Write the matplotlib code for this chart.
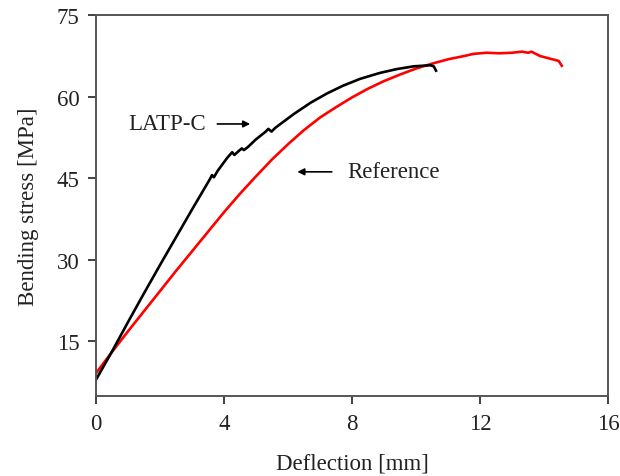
import numpy as np
import matplotlib
matplotlib.use('Agg')
import matplotlib.pyplot as plt

plt.rcParams.update({
    'font.family': 'serif',
    'font.serif': ['Liberation Serif', 'DejaVu Serif'],
    'font.size': 16.5,
})

# LATP-C (black) : deflection [mm], bending stress [MPa]
latp_x = [0.0, 0.5, 1.0, 1.5, 2.0, 2.5, 3.0, 3.55, 3.62, 3.68, 3.8, 4.1,
          4.25, 4.32, 4.45, 4.55, 4.62, 4.75, 5.0, 5.3, 5.38, 5.48, 5.6,
          6.17, 6.7, 7.21, 7.7, 8.25, 8.875, 9.4, 9.92, 10.44, 10.55, 10.62]
latp_y = [8.0, 13.2, 18.6, 23.9, 29.1, 34.2, 39.3, 44.8, 45.6, 45.2, 46.4, 48.8,
          49.8, 49.3, 50.0, 50.5, 50.2, 50.8, 52.2, 53.6, 54.1, 53.6, 54.3,
          56.8, 58.9, 60.6, 62.0, 63.3, 64.4, 65.1, 65.6, 65.8, 65.6, 64.8]

# Reference (red)
ref_x = [0.0, 0.5, 1.0, 1.5, 2.0, 2.5, 3.0, 3.5, 4.0, 4.5, 5.0, 5.5, 6.0,
         6.5, 7.0, 7.5, 8.0, 8.5, 9.0, 9.5, 10.0, 10.5, 11.0, 11.5, 11.8,
         12.2, 12.6, 13.0, 13.3, 13.5, 13.6, 13.87, 14.19, 14.45, 14.55]
ref_y = [9.2, 13.1, 16.9, 20.6, 24.3, 28.0, 31.6, 35.2, 38.8, 42.2, 45.4, 48.5, 51.3,
         53.9, 56.2, 58.1, 59.9, 61.5, 62.9, 64.1, 65.2, 66.1, 66.9, 67.5, 67.9,
         68.1, 68.0, 68.1, 68.3, 68.1, 68.3, 67.5, 67.0, 66.6, 65.7]

fig = plt.figure(figsize=(6.2, 4.77), dpi=100)
ax = fig.add_axes([0.155, 0.168, 0.826, 0.798])

ax.plot(ref_x, ref_y, color='#ff0000', lw=1.9)
ax.plot(latp_x, latp_y, color='black', lw=1.9)

ax.set_xlim(0, 16)
ax.set_ylim(5, 75)
ax.set_xticks([0, 4, 8, 12, 16])
ax.set_yticks([15, 30, 45, 60, 75])
ax.tick_params(direction='out', length=6, width=1.3, colors='#333333',
               labelcolor='#222222', top=False, right=False, pad=6)
for s in ax.spines.values():
    s.set_color('#555555')
    s.set_linewidth(1.4)

ax.set_xlabel('Deflection [mm]', color='#222222', labelpad=14)
ax.set_ylabel('Bending stress [MPa]', color='#222222', labelpad=13)

# annotations
ax.text(1.0, 55.0, 'LATP-C', ha='left', va='center', color='#222222')
ax.annotate('', xy=(4.9, 55.0), xytext=(3.7, 55.0),
            arrowprops=dict(arrowstyle='-|>', color='black', lw=1.2,
                            mutation_scale=10))
ax.text(7.85, 46.2, 'Reference', ha='left', va='center', color='#222222')
ax.annotate('', xy=(6.2, 46.2), xytext=(7.45, 46.2),
            arrowprops=dict(arrowstyle='-|>', color='black', lw=1.2,
                            mutation_scale=10))

fig.savefig('out.png', dpi=100)
